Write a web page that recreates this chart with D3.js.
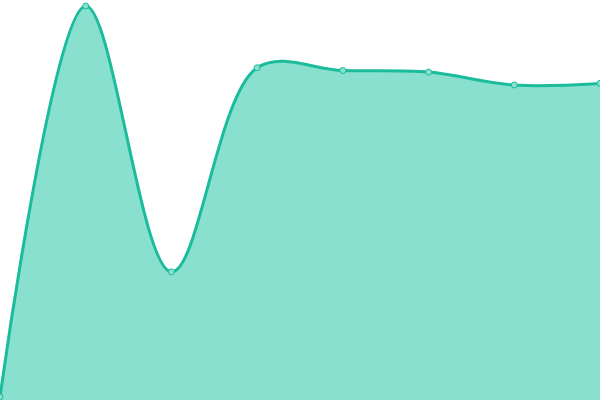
<!DOCTYPE html>
<html>
<head>
<meta charset="utf-8">
<script src="https://cdn.jsdelivr.net/npm/d3@7"></script>
<style>
  html, body { margin: 0; padding: 0; background: #fff; }
  svg { display: block; }
</style>
</head>
<body>
<svg id="chart" width="600" height="400"></svg>
<script>
// les valeurs
var labels = ["A", "B", "C", "D", "E", "F", "G", "H"];
var values = [0, 100, 32.0, 84.2, 83.5, 83.1, 79.8, 80.2];

var width = 600, height = 400;
var svg = d3.select("#chart");

var x = d3.scalePoint().domain(labels).range([0, width]);
var y = d3.scaleLinear().domain([0, 100]).range([397, 6]);

var pts = labels.map(function(l, i){ return {label: l, value: values[i]}; });

var area = d3.area()
    .x(function(d){ return x(d.label); })
    .y0(height)
    .y1(function(d){ return y(d.value); })
    .curve(d3.curveCatmullRom.alpha(0.5));

var line = d3.line()
    .x(function(d){ return x(d.label); })
    .y(function(d){ return y(d.value); })
    .curve(d3.curveCatmullRom.alpha(0.5));

svg.append("path").datum(pts).attr("d", area)
    .style("fill", "#89e0cf").style("stroke", "none");

svg.append("path").datum(pts).attr("d", line)
    .style("fill", "none").style("stroke", "#1abc9c").style("stroke-width", 3);

svg.selectAll("circle").data(pts).enter().append("circle")
    .attr("cx", function(d){ return x(d.label); })
    .attr("cy", function(d){ return y(d.value); })
    .attr("r", 3)
    .style("fill", "#8ce0cf").style("stroke", "#1abc9c").style("stroke-width", 1);
</script>
</body>
</html>
